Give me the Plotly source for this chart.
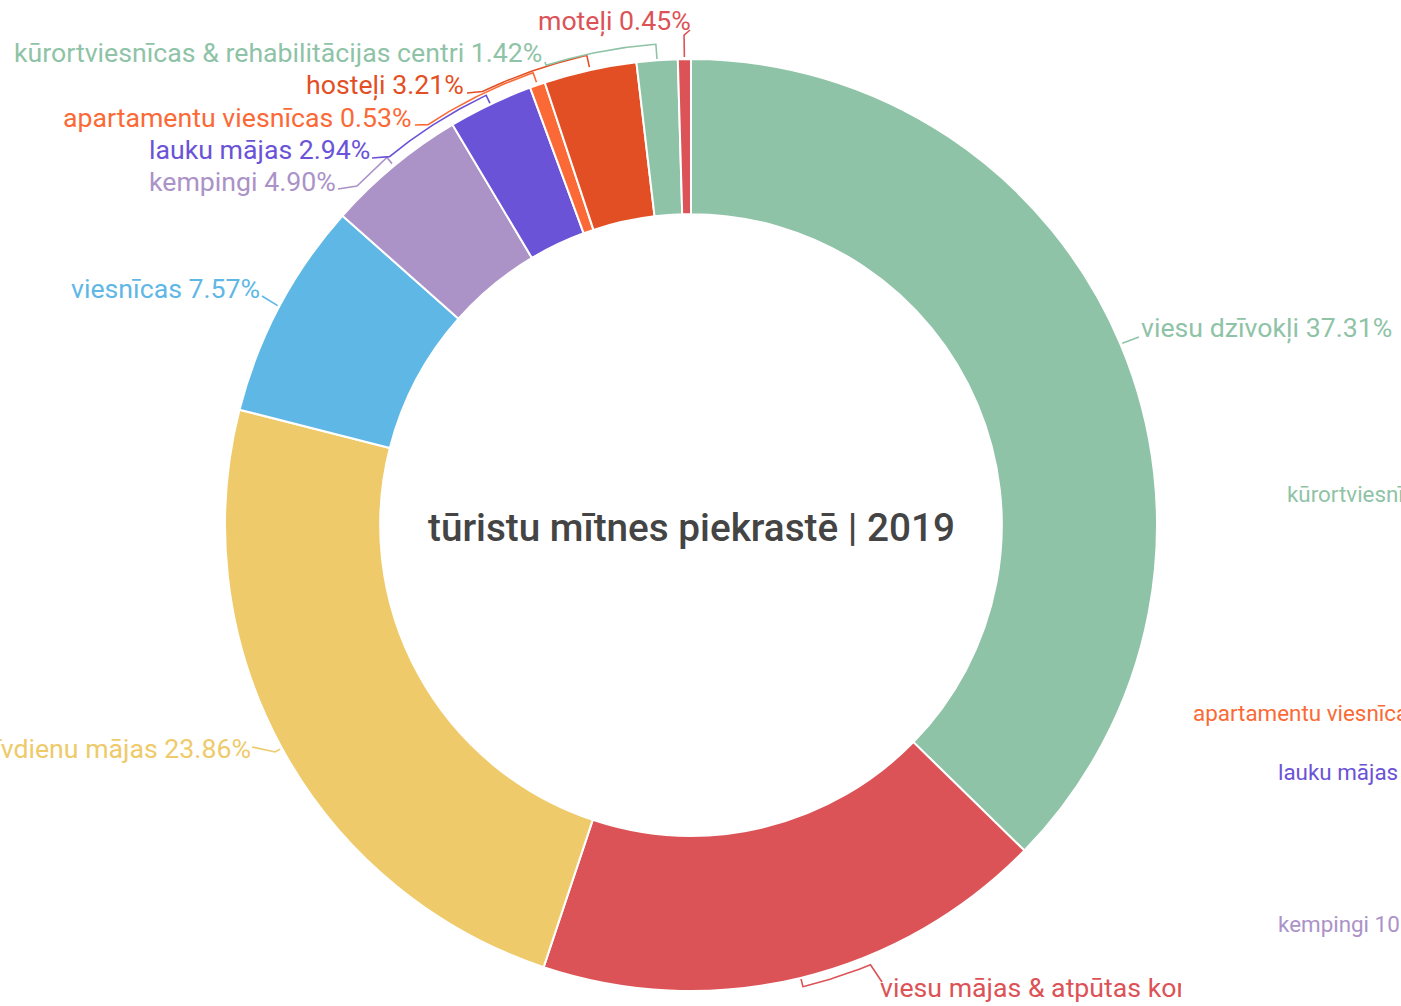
import numpy as np
import plotly.graph_objects as go

# ---------------- data ----------------
categories = [
    "viesu dzīvokļi",
    "viesu mājas & atpūtas kompleksi",
    "brīvdienu mājas",
    "viesnīcas",
    "kempingi",
    "lauku mājas",
    "apartamentu viesnīcas",
    "hosteļi",
    "kūrortviesnīcas & rehabilitācijas centri",
    "moteļi",
]
shares = [37.31, 17.81, 23.86, 7.57, 4.90, 2.94, 0.53, 3.21, 1.42, 0.45]
colors = ["#8fc3a7", "#dc5357", "#eeca6a", "#5fb7e5", "#ab92c7",
          "#6b53d7", "#fb6a36", "#e34f24", "#8fc3a7", "#dc5357"]
title_text = "tūristu mītnes piekrastē | 2019"

# partially visible labels of a neighbouring chart (cut by the page edge)
side_labels = ["kūrortviesnīcas", "apartamentu viesnīcas", "lauku mājas", "kempingi 10"]
side_colors = ["#8fc3a7", "#fb6a36", "#6b53d7", "#ab92c7"]

# ---------------- geometry (pixels) ----------------
W, H = 1401, 1006
CX, CY, R = 691, 525, 466
HOLE = 0.667
FONT = "Roboto, 'Open Sans', sans-serif"
LABEL_SIZE = 26.7


def P(theta, r):
    t = np.radians(theta)
    return CX + r * np.sin(t), CY - r * np.cos(t)


cum = np.concatenate([[0], np.cumsum(shares)]) / np.sum(shares) * 360.0
mids = (cum[:-1] + cum[1:]) / 2

# label placement: text position/anchor, connector point, bracket radius/start angle
layout_spec = [
    dict(x=1139, y=328, anchor="left", conn=(1139, 337), rin=468, rb=None, s=None, elb=[]),
    dict(x=880, y=990, anchor="left", conn=(882, 982), rin=467, rb=475, s=157.8, elb=[]),
    dict(x=253, y=749, anchor="right", conn=(252, 747), rin=468, rb=None, s=None, elb=[(275, 752)]),
    dict(x=262, y=289, anchor="right", conn=(262, 296), rin=468, rb=None, s=None, elb=[]),
    dict(x=338, y=182, anchor="right", conn=(338, 189), rin=469, rb=477, s=None, elb=[(357, 186)]),
    dict(x=372, y=150, anchor="right", conn=(372, 158), rin=467, rb=476, s=320.7, elb=[]),
    dict(x=413, y=118, anchor="right", conn=(415, 125), rin=469, rb=479, s=326.7, elb=[]),
    dict(x=466, y=85, anchor="right", conn=(467, 93), rin=469, rb=481, s=334.3, elb=[]),
    dict(x=544, y=53, anchor="right", conn=(545, 62), rin=467, rb=482, s=342.5, elb=[]),
    dict(x=693, y=21, anchor="right", conn=(690, 30), rin=468, rb=490, s=None, elb=[]),
]

fig = go.Figure()

fig.add_trace(go.Pie(
    labels=categories, values=shares, sort=False, direction="clockwise", rotation=0,
    hole=HOLE, textinfo="none", hoverinfo="label+percent", showlegend=False,
    marker=dict(colors=colors, line=dict(color="white", width=2)),
    domain=dict(x=[(CX - R) / W, (CX + R) / W], y=[(H - CY - R) / H, (H - CY + R) / H]),
))

annotations = []
for i, (cat, val, col, spec) in enumerate(zip(categories, shares, colors, layout_spec)):
    m = mids[i]
    pts = [P(m, spec["rin"])]
    if spec["rb"] is not None:
        s = m if spec["s"] is None else spec["s"]
        for th in np.linspace(m, s, 40):
            pts.append(P(th, spec["rb"]))
    pts += list(spec["elb"])
    pts.append(spec["conn"])
    xs, ys = zip(*pts)
    fig.add_trace(go.Scatter(x=list(xs), y=list(ys), mode="lines", line=dict(color=col, width=1.6),
                             hoverinfo="skip", showlegend=False, xaxis="x", yaxis="y"))
    label = f"{cat} {val:.2f}%"
    if i == 1:
        fig.add_trace(go.Scatter(x=[spec["x"]], y=[spec["y"]], mode="text", text=[label],
                                 textposition="middle right", cliponaxis=True,
                                 textfont=dict(family=FONT, size=LABEL_SIZE, color=col),
                                 hoverinfo="skip", showlegend=False, xaxis="x2", yaxis="y2"))
    else:
        annotations.append(dict(x=spec["x"], y=spec["y"], xref="x", yref="y", text=label,
                                showarrow=False, xanchor=spec["anchor"], yanchor="middle",
                                font=dict(family=FONT, size=LABEL_SIZE, color=col)))

side_pos = [(1285, 494), (1191, 713), (1276, 772), (1276, 924)]
for txt, col, (sx, sy) in zip(side_labels, side_colors, side_pos):
    annotations.append(dict(x=sx, y=sy, xref="x", yref="y", text=txt, showarrow=False,
                            xanchor="left", yanchor="middle",
                            font=dict(family=FONT, size=22.4, color=col)))

annotations.append(dict(x=CX, y=527, xref="x", yref="y", text=title_text, showarrow=False,
                        xanchor="center", yanchor="middle",
                        font=dict(family=FONT, size=38.7, color="#444444", weight=500)))

fig.update_layout(
    width=W, height=H, margin=dict(l=0, r=0, t=0, b=0),
    paper_bgcolor="white", plot_bgcolor="rgba(0,0,0,0)",
    xaxis=dict(range=[0, W], visible=False, domain=[0, 1], fixedrange=True),
    yaxis=dict(range=[H, 0], visible=False, domain=[0, 1], fixedrange=True),
    xaxis2=dict(range=[0, 1181], visible=False, domain=[0, 1181 / W], anchor="y2", fixedrange=True),
    yaxis2=dict(range=[H, 0], visible=False, domain=[0, 1], anchor="x2", fixedrange=True),
    annotations=annotations,
    showlegend=False,
)

fig.write_html("out.html", config={"displayModeBar": False},
               post_script="document.body.style.margin='0';document.body.style.overflow='hidden';")
